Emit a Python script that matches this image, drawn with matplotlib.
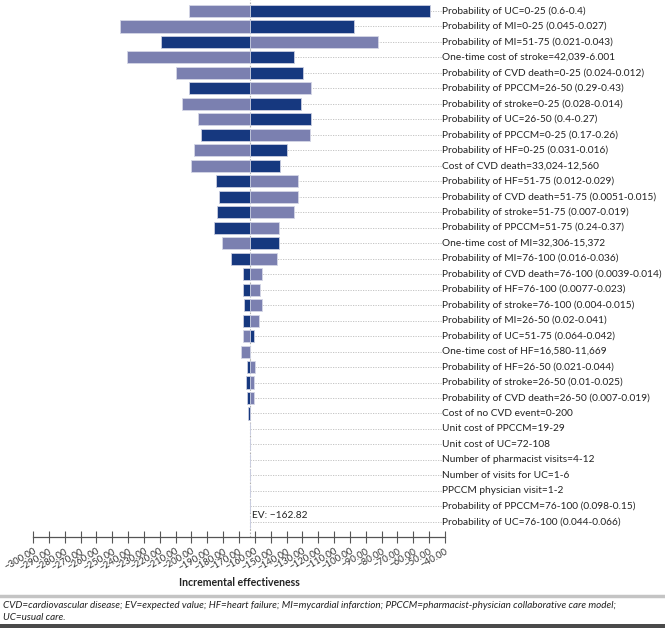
import numpy as np
import matplotlib
matplotlib.use("Agg")
import matplotlib.pyplot as plt
from matplotlib.patches import Rectangle
from matplotlib.lines import Line2D

plt.rcParams['font.family'] = ['Lato', 'DejaVu Sans']

ev = -162.82

labels = [
    "Probability of UC=0-25 (0.6-0.4)",
    "Probability of MI=0-25 (0.045-0.027)",
    "Probability of MI=51-75 (0.021-0.043)",
    "One-time cost of stroke=42,039-6.001",
    "Probability of CVD death=0-25 (0.024-0.012)",
    "Probability of PPCCM=26-50 (0.29-0.43)",
    "Probability of stroke=0-25 (0.028-0.014)",
    "Probability of UC=26-50 (0.4-0.27)",
    "Probability of PPCCM=0-25 (0.17-0.26)",
    "Probability of HF=0-25 (0.031-0.016)",
    "Cost of CVD death=33,024-12,560",
    "Probability of HF=51-75 (0.012-0.029)",
    "Probability of CVD death=51-75 (0.0051-0.015)",
    "Probability of stroke=51-75 (0.007-0.019)",
    "Probability of PPCCM=51-75 (0.24-0.37)",
    "One-time cost of MI=32,306-15,372",
    "Probability of MI=76-100 (0.016-0.036)",
    "Probability of CVD death=76-100 (0.0039-0.014)",
    "Probability of HF=76-100 (0.0077-0.023)",
    "Probability of stroke=76-100 (0.004-0.015)",
    "Probability of MI=26-50 (0.02-0.041)",
    "Probability of UC=51-75 (0.064-0.042)",
    "One-time cost of HF=16,580-11,669",
    "Probability of HF=26-50 (0.021-0.044)",
    "Probability of stroke=26-50 (0.01-0.025)",
    "Probability of CVD death=26-50 (0.007-0.019)",
    "Cost of no CVD event=0-200",
    "Unit cost of PPCCM=19-29",
    "Unit cost of UC=72-108",
    "Number of pharmacist visits=4-12",
    "Number of visits for UC=1-6",
    "PPCCM physician visit=1-2",
    "Probability of PPCCM=76-100 (0.098-0.15)",
    "Probability of UC=76-100 (0.044-0.066)",
]

# outcome at one end of the range (dark) and at the other end (light)
dark_vals = [-49.5, -97.3, -219.5, -135.1, -129.7, -201.8, -130.9, -124.6,
             -193.8, -139.7, -144.0, -184.5, -182.8, -184.1, -185.8, -144.8,
             -174.9, -167.7, -167.3, -166.9, -167.7, -160.8, -162.82, -164.8,
             -165.6, -165.2, -164.4, -162.82, -162.82, -162.82, -162.82,
             -162.82, -162.82, -162.82]
light_vals = [-201.6, -245.1, -82.1, -240.5, -209.8, -124.6, -206.0, -195.9,
              -125.4, -198.4, -200.5, -133.0, -132.6, -135.1, -144.6, -180.8,
              -146.1, -155.7, -156.6, -155.7, -157.4, -167.7, -169.0, -159.9,
              -160.8, -160.4, -162.82, -162.82, -162.82, -162.82, -162.82,
              -162.82, -162.82, -162.82]

ticks = np.arange(-300, -39, 10)

dark = '#16387f'
light = '#7b80b0'

fig = plt.figure(figsize=(6.65, 6.28), dpi=100)
ax = fig.add_axes([33/665, 1 - 537/628, 412/665, 537/628])

y = np.arange(len(labels))
h = 0.78

# dotted guide lines from EV to the labels
ax.hlines(y, ev, -41.5, colors='#bdbdbd', linestyles=(0, (1.5, 1.5)),
          lw=0.6, zorder=1, clip_on=False)
ax.axvline(ev, color='#b0b0b0', ls=(0, (1.5, 1.5)), lw=0.8, zorder=1)

ax.barh(y, np.array(light_vals) - ev, left=ev, height=h, color=light,
        edgecolor='#d4d6e6', lw=0.6, zorder=2)
ax.barh(y, np.array(dark_vals) - ev, left=ev, height=h, color=dark,
        edgecolor='#c9cde0', lw=0.6, zorder=3)

for yi, lab in zip(y, labels):
    ax.text(0.993, yi, lab, transform=ax.get_yaxis_transform(), ha='left',
            va='center', fontsize=7.3, color='#222222')

ax.text(ev + 1.3, 32.6, "EV: \u2212162.82", fontsize=7.3, color='#222222',
        ha='left', va='center')

ax.set_xlim(-300, -40)
ax.set_ylim(33.98, -0.71)
ax.set_yticks([])
ax.set_xticks(ticks)
ax.set_xticklabels([f"\u2212{abs(t):.2f}" for t in ticks], rotation=30,
                   ha='right', rotation_mode='anchor', fontsize=6.9,
                   color='#333333')
ax.tick_params(axis='x', direction='inout', length=8, width=0.8,
               color='#555555', pad=3)
for s in ['left', 'top', 'right']:
    ax.spines[s].set_visible(False)
ax.spines['bottom'].set_color('#555555')
ax.spines['bottom'].set_linewidth(0.9)

fig.text(239/665, 1 - 582/628, "Incremental effectiveness", ha='center',
         va='center', fontsize=7.6, fontweight='bold', color='#222222')

fig.add_artist(Line2D([0, 1], [1 - 596/628, 1 - 596/628], color='#c4c4c4',
                      lw=2.5, transform=fig.transFigure))
fig.text(3/665, 1 - 606/628,
         "CVD=cardiovascular disease; EV=expected value; HF=heart failure; "
         "MI=mycardial infarction; PPCCM=pharmacist-physician collaborative care model;",
         ha='left', va='center', fontsize=7.1, style='italic', color='#222222')
fig.text(3/665, 1 - 617/628, "UC=usual care.", ha='left', va='center',
         fontsize=7.1, style='italic', color='#222222')
fig.add_artist(Rectangle((0, 0), 1, 4/628, transform=fig.transFigure,
                         color='#4a4a4a', lw=0))

fig.savefig("out.png", dpi=100)
